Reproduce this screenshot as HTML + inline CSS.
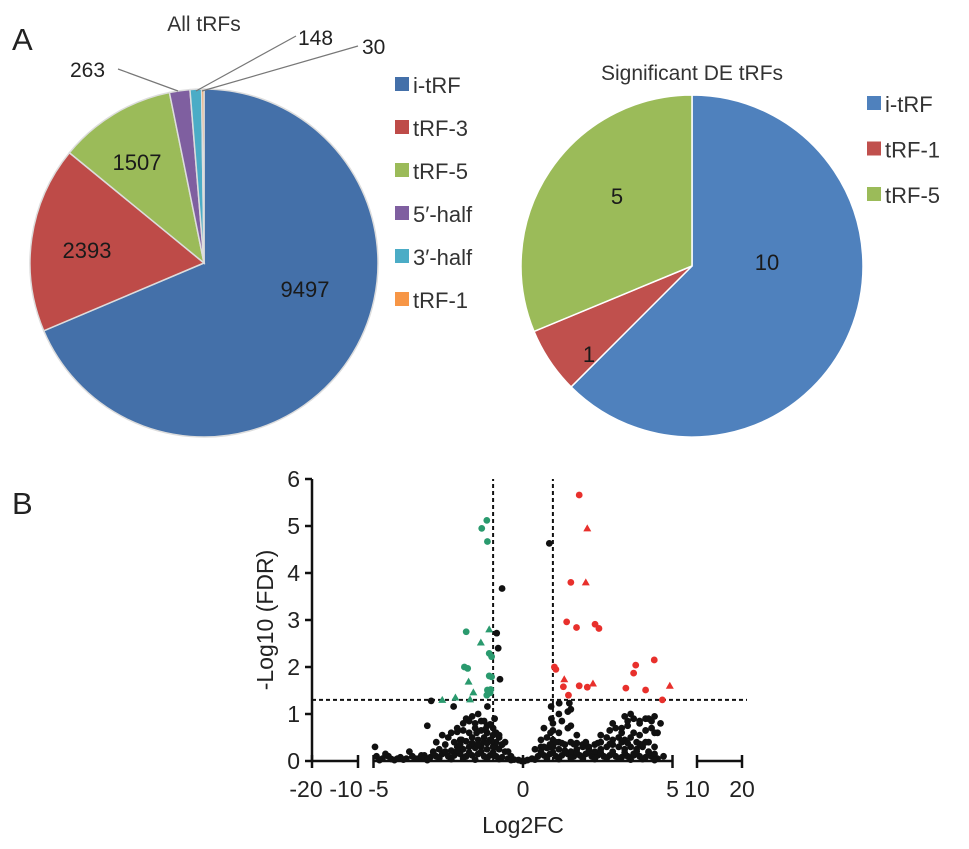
<!DOCTYPE html>
<html><head><meta charset="utf-8"><style>
body{margin:0;background:#fff;}
svg{display:block;font-family:"Liberation Sans",Arial,sans-serif;}
</style></head><body>
<svg id="fig" width="969" height="849" viewBox="0 0 969 849">
<text x="12" y="50" font-size="31" fill="#222">A</text>
<text x="12" y="514" font-size="31" fill="#222">B</text>
<text x="204" y="31" font-size="21" text-anchor="middle" fill="#333">All tRFs</text>
<text x="692" y="80" font-size="21" text-anchor="middle" fill="#333">Significant DE tRFs</text>
<g id="pie1"></g>
<g id="pie2"></g>
<g id="leg1"></g>
<g id="leg2"></g>
<g stroke="#777" stroke-width="1.2" fill="none">
<polyline points="118,69 178,91"/>
<polyline points="296,36 196,91"/>
<polyline points="358,46 202,91"/>
</g>
<g font-size="21" fill="#222">
<text x="70" y="77">263</text>
<text x="298" y="45">148</text>
<text x="362" y="54">30</text>
</g>
<g id="volcano"></g>
</svg>
<script>
const NS="http://www.w3.org/2000/svg";
function mk(tag,attrs,parent){const e=document.createElementNS(NS,tag);for(const k in attrs)e.setAttribute(k,attrs[k]);parent.appendChild(e);return e;}

// ---- Pie data ----
const pie1Cats=["i-tRF","tRF-3","tRF-5","5′-half","3′-half","tRF-1"];
const pie1Vals=[9497,2393,1507,263,148,30];
const pie1Colors=["#4470a9","#be4b48","#9bbb59","#7f5fa0","#4bacc6","#f79646"];
const pie2Cats=["i-tRF","tRF-1","tRF-5"];
const pie2Vals=[10,1,5];
const pie2Colors=["#4f81bd","#c0504d","#9bbb59"];

function drawPie(g,cx,cy,r,vals,cols,cats,labelIdx,labelPos,stroke){
  const tot=vals.reduce((a,b)=>a+b,0);let a0=0;
  vals.forEach((v,i)=>{
    const a1=a0+v/tot*2*Math.PI;
    const x0=cx+r*Math.sin(a0),y0=cy-r*Math.cos(a0),x1=cx+r*Math.sin(a1),y1=cy-r*Math.cos(a1);
    const p=mk('path',{d:`M${cx},${cy}L${x0},${y0}A${r},${r} 0 ${a1-a0>Math.PI?1:0} 1 ${x1},${y1}Z`,fill:cols[i],stroke:stroke,'stroke-width':1.5},g);
    
    
    a0=a1;
  });
  labelIdx.forEach((i,k)=>{
    const t=mk('text',{x:labelPos[k][0],y:labelPos[k][1],'font-size':22,'text-anchor':'middle',fill:'#1a1a1a'},g);
    t.textContent=vals[i];
    
    
  });
}
drawPie(document.getElementById('pie1'),204,263,174,pie1Vals,pie1Colors,pie1Cats,[0,1,2],[[305,297],[87,258],[137,170]],'#ddd');
drawPie(document.getElementById('pie2'),692,266,171,pie2Vals,pie2Colors,pie2Cats,[0,1,2],[[767,270],[589,362],[617,204]],'#fff');

function drawLegend(g,x,y0,dy,cats,cols){
  cats.forEach((c,i)=>{
    const y=y0+i*dy;
    const r=mk('rect',{x:x,y:y-13,width:14,height:14,fill:cols[i]},g);
    
    
    const t=mk('text',{x:x+18,y:y+3,'font-size':22,fill:'#333'},g);
    t.textContent=c;
    
    
  });
}
drawLegend(document.getElementById('leg1'),395,90,43,pie1Cats,pie1Colors);
drawLegend(document.getElementById('leg2'),867,109,45.5,pie2Cats,pie2Colors);

// ---- Volcano data ----
const xTicks=["-20","-10","-5","0","5","10","20"];
const yTicks=[0,1,2,3,4,5,6];
const downFC=[-1.38,-1.21,-1.19,-1.9,-1.13,-1.41,-1.13,-1.05,-1.96,-1.85,-1.13,-1.05,-1.82,-1.66,-1.19,-1.08,-1.21,-2.26,-2.7,-1.77,-1.1];
const downY=[4.95,5.12,4.67,2.75,2.8,2.52,2.29,2.22,2.0,1.97,1.81,1.79,1.69,1.46,1.51,1.52,1.4,1.35,1.3,1.31,1.45];
const downShape=["c","c","c","c","t","t","c","c","c","c","c","c","t","t","c","c","c","t","t","t","c"];
const upFC=[1.88,2.15,1.6,2.1,1.46,1.79,2.41,2.54,1.05,3.77,4.39,3.7,1.38,1.35,1.88,2.15,2.34,3.44,4.1,4.91,1.52,4.66,1.1];
const upY=[5.66,4.95,3.8,3.8,2.96,2.84,2.91,2.82,2.0,2.04,2.15,1.87,1.74,1.58,1.6,1.57,1.65,1.55,1.51,1.6,1.4,1.3,1.95];
const upShape=["c","t","c","t","c","c","c","c","c","c","c","c","t","c","c","c","t","c","c","t","c","c","c"];
const nsFC=[0.88,-0.7,-0.88,-0.83,-0.77,-3.07,-2.32,-1.19,0.94,1.21,1.55,-0.95,0.95,-0.9,0.92,-0.92,0.9,1.6,
-4.95,-4.9,-4.7,-4.5,-4.3,-4.1,-3.9,-3.7,-3.5,-3.3,-3.1,-2.9,-2.7,-2.5,-2.3,-2.1,-1.9,-1.7,-1.5,-1.3,-1.1,-0.9,-0.7,-0.5,-0.3,
-4.6,-4.2,-3.8,-3.4,-3.0,-2.8,-2.6,-2.4,-2.2,-2.0,-1.8,-1.6,-1.4,-1.2,-1.0,-0.8,-0.6,-0.4,
-3.2,-2.9,-2.6,-2.3,-2.1,-1.9,-1.7,-1.5,-1.3,-1.1,-0.9,-0.7,-0.5,
-2.7,-2.4,-2.2,-2.0,-1.8,-1.6,-1.4,-1.2,-1.0,-0.8,-0.6,
-2.2,-2.0,-1.8,-1.6,-1.4,-1.2,-1.0,-0.8,-3.3,-2.5,
-1.9,-1.7,-1.5,-1.3,-1.1,-0.7,-2.05,-1.55,-1.25,
0.3,0.5,0.7,0.9,1.1,1.3,1.5,1.7,1.9,2.1,2.3,2.5,2.7,2.9,3.1,3.3,3.5,3.7,3.9,4.1,4.3,4.5,4.7,
0.4,0.6,0.8,1.0,1.2,1.4,1.6,1.8,2.0,2.2,2.4,2.6,2.8,3.0,3.2,3.4,3.6,3.8,4.0,4.2,4.4,
0.6,0.8,1.0,1.2,1.4,1.6,1.8,2.0,2.2,2.4,2.6,2.8,3.0,3.2,3.4,3.6,3.8,4.0,4.2,4.4,
0.7,1.0,1.2,1.5,1.8,2.6,2.9,3.1,3.3,3.5,3.7,3.9,4.1,4.3,4.5,
1.0,1.3,1.6,3.0,3.3,3.5,3.7,3.9,4.1,4.3,4.6,
1.2,1.5,3.4,3.6,3.9,4.2,4.4,3.7,4.4,-0.15,0.15,-0.05,0.05,
-4.8,-4.4,-4.0,-3.6,-3.2,-2.8,-2.4,-2.0,-1.6,-1.2,-0.8,-0.4,0.4,0.8,1.2,1.6,2.0,2.4,2.8,3.2,3.6,4.0,4.4,
-3.0,-2.6,-2.2,-1.8,-1.4,-1.0,0.6,1.0,1.4,1.8,2.2,2.6,3.0,3.4,3.8,4.2,
-2.1,-1.7,-1.5,-1.3,-1.2,-1.05,0.7,0.9,1.1,1.3,1.7,2.1,2.5,2.9,3.3,3.5,3.9,4.1];
const nsY=[4.63,3.67,2.72,2.4,1.74,1.28,1.16,1.16,1.16,1.23,1.23,0.9,0.9,0.6,0.6,0.3,0.3,1.1,
0.3,0.1,0.05,0.1,0.02,0.08,0.05,0.1,0.05,0.12,0.08,0.1,0.15,0.1,0.12,0.15,0.1,0.12,0.15,0.1,0.12,0.1,0.08,0.05,0.03,
0.15,0.05,0.2,0.12,0.2,0.25,0.2,0.22,0.3,0.25,0.3,0.28,0.3,0.25,0.3,0.25,0.2,0.1,
0.75,0.4,0.35,0.4,0.45,0.42,0.5,0.45,0.5,0.45,0.4,0.35,0.2,
0.55,0.6,0.62,0.65,0.6,0.7,0.65,0.6,0.55,0.5,0.4,
0.7,0.8,0.85,0.8,0.85,0.75,0.7,0.55,0.05,0.5,
0.9,0.95,1.0,0.85,0.78,0.35,0.45,0.6,0.68,
0.05,0.1,0.12,0.15,0.1,0.12,0.15,0.1,0.12,0.15,0.1,0.12,0.1,0.12,0.1,0.08,0.1,0.12,0.1,0.08,0.1,0.05,0.1,
0.25,0.3,0.28,0.3,0.25,0.22,0.2,0.25,0.3,0.25,0.2,0.25,0.3,0.35,0.3,0.25,0.3,0.25,0.3,0.2,0.15,
0.45,0.5,0.45,0.4,0.35,0.4,0.38,0.35,0.3,0.35,0.4,0.5,0.45,0.5,0.45,0.5,0.4,0.35,0.4,0.3,
0.7,0.65,0.6,0.7,0.55,0.55,0.65,0.7,0.6,0.75,0.6,0.55,0.65,0.7,0.6,
0.8,0.85,0.75,0.8,0.7,0.85,0.9,0.8,0.9,0.85,0.8,
1.0,1.05,0.95,1.0,0.85,0.9,0.95,0.15,0.6,0.02,0.02,0.0,0.0,
0.02,0.04,0.03,0.05,0.02,0.06,0.04,0.05,0.03,0.05,0.04,0.02,0.03,0.05,0.04,0.06,0.05,0.04,0.06,0.05,0.03,0.04,0.02,
0.18,0.2,0.22,0.18,0.2,0.18,0.2,0.18,0.2,0.18,0.2,0.18,0.2,0.18,0.2,0.18,
0.35,0.38,0.36,0.4,0.38,0.42,0.3,0.35,0.4,0.38,0.36,0.4,0.38,0.36,0.4,0.38,0.36,0.4];

const vg=document.getElementById('volcano');
const X0=523,PX=29.9,Y0=761,PY=47;
function sx(v){ if(v<-5) return 312+(v+20)*4.6; if(v>5) return 697+(v-10)*4.5; return X0+v*PX;}
function sy(v){return Y0-v*PY;}
const xLabelShift=[-6,-12,5,0,0,0,0];

// axes
const ya=mk('line',{x1:312,y1:sy(0),x2:312,y2:sy(6),stroke:'#111','stroke-width':2.5},vg);

yTicks.forEach(t=>{
  mk('line',{x1:305,y1:sy(t),x2:312,y2:sy(t),stroke:'#111','stroke-width':2.5},vg);
  const tx=mk('text',{x:300,y:sy(t)+8,'font-size':23,'text-anchor':'end',fill:'#222'},vg);
  tx.textContent=t;
  
  
});
const segs=[[-20,-10],[-5,5],[10,20]];
segs.forEach(s=>{
  const l=mk('line',{x1:sx(s[0]),y1:Y0,x2:sx(s[1]),y2:Y0,stroke:'#111','stroke-width':2.5},vg);
  
  
});
const xTickVals=[-20,-10,-5,0,5,10,20];
xTickVals.forEach((v,i)=>{
  mk('line',{x1:sx(v),y1:Y0-6,x2:sx(v),y2:Y0+7,stroke:'#111','stroke-width':2.5},vg);
  const tx=mk('text',{x:sx(v)+xLabelShift[i],y:Y0+36,'font-size':23,'text-anchor':'middle',fill:'#222'},vg);
  tx.textContent=xTicks[i];
  
  
});
const xt=mk('text',{x:523,y:833,'font-size':23,'text-anchor':'middle',fill:'#222'},vg);
xt.textContent='Log2FC';


const yt=mk('text',{x:0,y:0,'font-size':23,'text-anchor':'middle',fill:'#222',transform:'translate(273,620) rotate(-90)'},vg);
yt.textContent='-Log10 (FDR)';



// thresholds
const th=[[sx(-1),sy(0),sx(-1),sy(6)],[sx(1),sy(0),sx(1),sy(6)],[312,sy(1.3),747,sy(1.3)]];
th.forEach(c=>{
  const l=mk('line',{x1:c[0],y1:c[1],x2:c[2],y2:c[3],stroke:'#111','stroke-width':2,'stroke-dasharray':'4,3'},vg);
  
  
});

function pts(fc,y,shape,col,name){
  fc.forEach((v,i)=>{
    const x=sx(v),yy=sy(y[i]);let e;
    if(shape&&shape[i]==='t') e=mk('polygon',{points:`${x},${yy-4} ${x-4},${yy+3} ${x+4},${yy+3}`,fill:col},vg);
    else e=mk('circle',{cx:x,cy:yy,r:3.4,fill:col},vg);
    
    
  });
}
pts(nsFC,nsY,null,'#111','point-not-significant');
pts(downFC,downY,downShape,'#2a9a6e','point-downregulated');
pts(upFC,upY,upShape,'#e8302c','point-upregulated');
</script>
</body></html>
